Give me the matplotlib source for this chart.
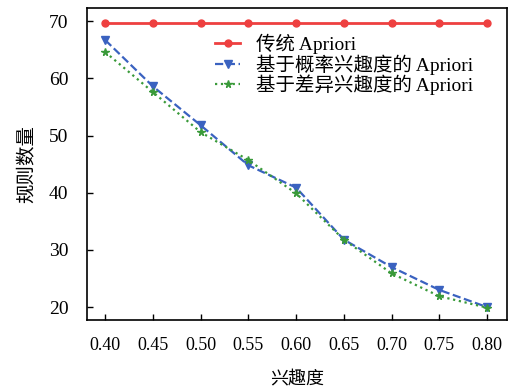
import numpy as np
import matplotlib.pyplot as plt

plt.rcParams['font.family'] = ['Liberation Serif', 'Noto Sans CJK SC']

# data
interest = [0.40, 0.45, 0.50, 0.55, 0.60, 0.65, 0.70, 0.75, 0.80]
classic = [69.7, 69.7, 69.7, 69.7, 69.7, 69.7, 69.7, 69.7, 69.7]
prob_interest = [66.7, 58.6, 51.8, 44.8, 40.9, 31.8, 27.0, 23.0, 20.0]
diff_interest = [64.6, 57.6, 50.6, 45.7, 39.9, 31.8, 25.9, 21.9, 19.9]
labels = ['传统 Apriori', '基于概率兴趣度的 Apriori', '基于差异兴趣度的 Apriori']
xticks = ['0.40', '0.45', '0.50', '0.55', '0.60', '0.65', '0.70', '0.75', '0.80']

fig = plt.figure(figsize=(5.1, 3.9), dpi=100)
ax = fig.add_axes([0.171, 0.179, 0.823, 0.8])

ax.plot(interest, classic, '-o', color='#ee4040', lw=2, ms=5, label=labels[0])
ax.plot(interest, prob_interest, '--v', color='#3a62c0', lw=1.6, ms=5.5, label=labels[1])
ax.plot(interest, diff_interest, ':*', color='#3a9a3a', lw=1.6, ms=5.5, label=labels[2])

ax.set_xlim(0.381, 0.821)
ax.set_ylim(17.7, 72.3)
ax.set_xticks(interest)
ax.set_xticklabels(xticks)
ax.set_yticks([20, 30, 40, 50, 60, 70])
ax.tick_params(direction='in', length=4, width=1)
ax.tick_params(axis='x', labelsize=13, pad=12)
ax.tick_params(axis='y', labelsize=14, pad=13.5)
for s in ax.spines.values():
    s.set_linewidth(1.2)

ax.set_xlabel('兴趣度', fontsize=13, labelpad=13)
ax.set_ylabel('规则数量', fontsize=14, labelpad=9)

ax.legend(loc='upper left', bbox_to_anchor=(0.295, 0.93), frameon=False,
          fontsize=14, handlelength=1.3, handletextpad=0.8,
          labelspacing=0.0, borderpad=0.2, borderaxespad=0)

fig.savefig('out.png', dpi=100)
